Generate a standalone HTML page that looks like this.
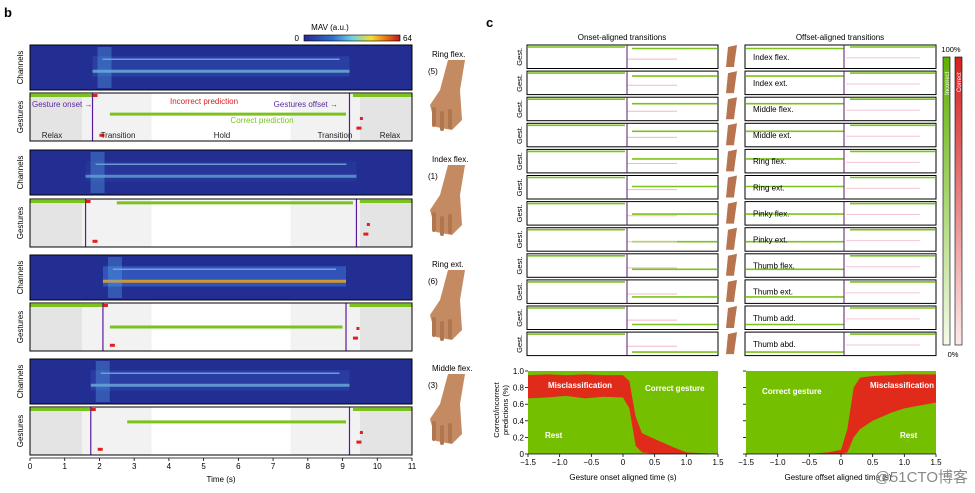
<!DOCTYPE html>
<html><head><meta charset="utf-8">
<style>
body{margin:0;background:#fff;font-family:"Liberation Sans",Arial,sans-serif;}
svg{display:block}
text{font-family:"Liberation Sans",Arial,sans-serif;}
</style></head>
<body>
<svg id="fig" width="975" height="493" viewBox="0 0 975 493">
<defs>
<linearGradient id="cmap" x1="0" x2="1" y1="0" y2="0">
<stop offset="0" stop-color="#2a2a8c"/><stop offset="0.3" stop-color="#2f6fd0"/><stop offset="0.5" stop-color="#6ed0e8"/><stop offset="0.7" stop-color="#f2e030"/><stop offset="0.85" stop-color="#e87818"/><stop offset="1" stop-color="#c01818"/>
</linearGradient>
<linearGradient id="gbar" x1="0" x2="0" y1="0" y2="1"><stop offset="0" stop-color="#5fb000"/><stop offset="1" stop-color="#f4fbe8"/></linearGradient>
<linearGradient id="rbar" x1="0" x2="0" y1="0" y2="1"><stop offset="0" stop-color="#d62020"/><stop offset="1" stop-color="#fdeaea"/></linearGradient>
</defs>
<g id="panelB"></g>
<g id="panelC"></g>
</svg>
<script>
// ---------- Panel b data ----------
const rowsB = ["Ring flex.","Index flex.","Ring ext.","Middle flex."];
const rowsBNum = ["(5)","(1)","(6)","(3)"];
const onsetB = [1.8, 1.6, 2.1, 1.75];
const offsetB = [9.2, 9.4, 9.1, 9.2];
const correctStart = [2.3, 2.5, 2.3, 2.8];
const correctEnd = [9.1, 9.3, 9.0, 9.1];
const correctLevel = [0.44, 0.08, 0.5, 0.31];
const intensityB = [0.35, 0.15, 0.8, 0.3];
const timeTicks = [0,1,2,3,4,5,6,7,8,9,10,11];
// ---------- Panel c data ----------
const gestures = ["Index flex.","Index ext.","Middle flex.","Middle ext.","Ring flex.","Ring ext.","Pinky flex.","Pinky ext.","Thumb flex.","Thumb ext.","Thumb add.","Thumb abd."];
const onsetT = [-1.5,-1.2,-0.9,-0.6,-0.3,0,0.1,0.2,0.3,0.5,0.8,1.0,1.5];
const onsetRest = [0.67,0.68,0.70,0.67,0.69,0.68,0.55,0.10,0.02,0,0,0,0];
const onsetTop  = [0.95,0.96,0.95,0.96,0.95,0.95,0.88,0.45,0.25,0.18,0.08,0.02,0];
const offsetT = [-1.5,-1.0,-0.5,-0.2,0,0.1,0.2,0.3,0.5,0.8,1.0,1.5];
const offsetRest = [0,0,0,0,0,0.02,0.2,0.3,0.4,0.5,0.55,0.62];
const offsetTop  = [0,0,0,0.02,0.05,0.3,0.8,0.92,0.94,0.95,0.96,0.96];
const cTicks = [-1.5,-1.0,-0.5,0,0.5,1.0,1.5];
const yTicks = [0,0.2,0.4,0.6,0.8,1.0];

const NS="http://www.w3.org/2000/svg";
function mk(parent,tag,attrs,txt){const e=document.createElementNS(NS,tag);for(const k in attrs)e.setAttribute(k,attrs[k]);if(txt!==undefined)e.textContent=txt;parent.appendChild(e);return e;}
const B=document.getElementById('panelB'), C=document.getElementById('panelC');

// panel b
const bx0=30,bx1=412;
const sx=t=>bx0+(bx1-bx0)*t/11;
let t=mk(B,'text',{x:4,y:17,'font-size':13,'font-weight':'bold'},'b');

t=mk(B,'text',{x:330,y:30,'font-size':8,'text-anchor':'middle'},'MAV (a.u.)');

let r=mk(B,'rect',{x:304,y:35,width:96,height:6,fill:'url(#cmap)',stroke:'#000','stroke-width':0.6});

mk(B,'text',{x:299,y:41,'font-size':8,'text-anchor':'end'},'0');
mk(B,'text',{x:403,y:41,'font-size':8},'64');
const chTop=[45,150,255,359], geTop=[93,199,303,407];
rowsB.forEach((name,i)=>{
  const cy=chTop[i], ch=45;
  const hm=mk(B,'g',{});
  
  mk(hm,'rect',{x:bx0,y:cy,width:bx1-bx0,height:ch,fill:'#232e92'});
  const a=intensityB[i];
  const xs=sx(onsetB[i]), xe=sx(offsetB[i]);
  mk(hm,'rect',{x:xs,y:cy+ch*0.25,width:xe-xs,height:ch*0.45,fill:'#3a6ad0',opacity:a*0.8});
  mk(hm,'rect',{x:xs,y:cy+ch*0.55,width:xe-xs,height:3,fill:a>0.6?'#e6a020':'#7fc8e8',opacity:0.5+a*0.5});
  mk(hm,'rect',{x:xs+10,y:cy+ch*0.3,width:xe-xs-20,height:1.5,fill:'#9fd8f0',opacity:0.6});
  mk(hm,'rect',{x:xs+5,y:cy+2,width:14,height:ch-4,fill:'#5aa8e8',opacity:0.35});
  mk(hm,'rect',{x:bx0,y:cy,width:bx1-bx0,height:ch,fill:'none',stroke:'#000','stroke-width':1});
  let l=mk(B,'text',{x:0,y:0,'font-size':8,'text-anchor':'middle',transform:`translate(${bx0-7},${cy+ch/2}) rotate(-90)`},'Channels');
  
  // gestures
  const gy=geTop[i], gh=48;
  const gg=mk(B,'g',{});
  
  mk(gg,'rect',{x:bx0,y:gy,width:bx1-bx0,height:gh,fill:'#fff'});
  mk(gg,'rect',{x:bx0,y:gy,width:sx(1.5)-bx0,height:gh,fill:'#e4e4e4'});
  mk(gg,'rect',{x:sx(1.5),y:gy,width:sx(3.5)-sx(1.5),height:gh,fill:'#f2f2f2'});
  mk(gg,'rect',{x:sx(7.5),y:gy,width:sx(9.5)-sx(7.5),height:gh,fill:'#f2f2f2'});
  mk(gg,'rect',{x:sx(9.5),y:gy,width:bx1-sx(9.5),height:gh,fill:'#e4e4e4'});
  const rel1=mk(gg,'rect',{x:bx0,y:gy+1,width:sx(onsetB[i])-bx0,height:3,fill:'#7cc21e'});
  
  const rel2=mk(gg,'rect',{x:sx(offsetB[i]+0.1),y:gy+1,width:bx1-sx(offsetB[i]+0.1),height:3,fill:'#7cc21e'});
  
  const cp=mk(gg,'rect',{x:sx(correctStart[i]),y:gy+gh*correctLevel[i]-1.5,width:sx(correctEnd[i])-sx(correctStart[i]),height:3,fill:'#7cc21e'});
  
  mk(gg,'rect',{x:sx(onsetB[i]),y:gy+1,width:5,height:3,fill:'#e02020'});
  mk(gg,'rect',{x:sx(onsetB[i]+0.2),y:gy+gh*0.85,width:5,height:3,fill:'#e02020'});
  mk(gg,'rect',{x:sx(offsetB[i]+0.3),y:gy+gh*0.5,width:3,height:3,fill:'#e02020'});
  mk(gg,'rect',{x:sx(offsetB[i]+0.2),y:gy+gh*0.7,width:5,height:3,fill:'#e02020'});
  mk(gg,'line',{x1:sx(onsetB[i]),x2:sx(onsetB[i]),y1:gy,y2:gy+gh,stroke:'#5a1a9a','stroke-width':1.2});
  mk(gg,'line',{x1:sx(offsetB[i]),x2:sx(offsetB[i]),y1:gy,y2:gy+gh,stroke:'#5a1a9a','stroke-width':1.2});
  mk(gg,'rect',{x:bx0,y:gy,width:bx1-bx0,height:gh,fill:'none',stroke:'#000','stroke-width':1});
  l=mk(B,'text',{x:0,y:0,'font-size':8,'text-anchor':'middle',transform:`translate(${bx0-7},${gy+gh/2}) rotate(-90)`},'Gestures');
  
  // gesture name + hand
  l=mk(B,'text',{x:432,y:cy+12,'font-size':8},name);
  
  mk(B,'text',{x:428,y:cy+29,'font-size':8},rowsBNum[i]);
  const h=mk(B,'g',{});
  
  mk(h,'path',{d:`M${448} ${cy+15} L${465} ${cy+15} L${460} ${cy+45} L${462} ${cy+75} L${452} ${cy+85} L${436} ${cy+82} L${430} ${cy+60} L${440} ${cy+45} Z`,fill:'#c48a62'});
  mk(h,'rect',{x:432,y:cy+62,width:4,height:20,fill:'#b07650',rx:2});
  mk(h,'rect',{x:440,y:cy+66,width:4,height:20,fill:'#b07650',rx:2});
  mk(h,'rect',{x:448,y:cy+64,width:4,height:20,fill:'#b07650',rx:2});
});
// annotations row1
[['Gesture onset →',32,107,'#5a2aa0','start'],['Incorrect prediction',204,104,'#d62020','middle'],['Gestures offset →',338,107,'#5a2aa0','end'],['Correct prediction',262,123,'#7cc21e','middle'],
 ['Relax',52,138,'#222','middle'],['Transition',118,138,'#222','middle'],['Hold',222,138,'#222','middle'],['Transition',335,138,'#222','middle'],['Relax',390,138,'#222','middle']].forEach(a=>{
  const e=mk(B,'text',{x:a[1],y:a[2],'font-size':8,fill:a[3],'text-anchor':a[4]},a[0]);
  
});
// time axis
mk(B,'line',{x1:bx0,x2:bx1,y1:458,y2:458,stroke:'#000','stroke-width':0.8});
timeTicks.forEach(v=>{
  mk(B,'line',{x1:sx(v),x2:sx(v),y1:458,y2:461,stroke:'#000','stroke-width':0.8});
  const e=mk(B,'text',{x:sx(v),y:469,'font-size':8,'text-anchor':'middle'},String(v));
  
});
t=mk(B,'text',{x:221,y:482,'font-size':8,'text-anchor':'middle'},'Time (s)');


// ---------- panel c ----------
t=mk(C,'text',{x:486,y:27,'font-size':13,'font-weight':'bold'},'c');

mk(C,'text',{x:622,y:40,'font-size':8,'text-anchor':'middle'},'Onset-aligned transitions');
mk(C,'text',{x:840,y:40,'font-size':8,'text-anchor':'middle'},'Offset-aligned transitions');
const Lx0=527,Lx1=718,Rx0=745,Rx1=936,rowH=23.5,pitch=26.1,top0=45;
gestures.forEach((g,i)=>{
  const y=top0+i*pitch, lvl=y+2+(i+1)*(rowH-4)/13;
  const lg=mk(C,'g',{});
  
  mk(lg,'rect',{x:Lx0,y:y,width:Lx1-Lx0,height:rowH,fill:'#fff',stroke:'#000','stroke-width':1});
  mk(lg,'line',{x1:Lx0+1,x2:Lx0+98,y1:y+2,y2:y+2,stroke:'#7cc21e','stroke-width':1.6});
  mk(lg,'line',{x1:Lx0+105,x2:Lx1-1,y1:lvl,y2:lvl,stroke:'#7cc21e','stroke-width':1.6});
  mk(lg,'line',{x1:Lx0+100,x2:Lx0+150,y1:y+rowH*0.6,y2:y+rowH*0.6,stroke:'#f0b8c8','stroke-width':1});
  mk(lg,'line',{x1:627,x2:627,y1:y,y2:y+rowH,stroke:'#5a1a6a','stroke-width':1});
  let e=mk(C,'text',{x:0,y:0,'font-size':7.5,'text-anchor':'middle',transform:`translate(${522},${y+rowH/2}) rotate(-90)`},'Gest.');
  
  const rg=mk(C,'g',{});
  
  mk(rg,'rect',{x:Rx0,y:y,width:Rx1-Rx0,height:rowH,fill:'#fff',stroke:'#000','stroke-width':1});
  mk(rg,'line',{x1:Rx0+1,x2:844,y1:lvl,y2:lvl,stroke:'#7cc21e','stroke-width':1.6});
  mk(rg,'line',{x1:850,x2:Rx1-1,y1:y+2,y2:y+2,stroke:'#7cc21e','stroke-width':1.6});
  mk(rg,'line',{x1:846,x2:920,y1:y+rowH*0.55,y2:y+rowH*0.55,stroke:'#f4c6d2','stroke-width':1});
  mk(rg,'line',{x1:844,x2:844,y1:y,y2:y+rowH,stroke:'#5a1a6a','stroke-width':1});
  e=mk(C,'text',{x:753,y:y+rowH/2+3,'font-size':8},g);
  
  const hd=mk(C,'path',{d:`M${728} ${y+2} L${737} ${y} L${735} ${y+14} L${734} ${y+22} L${726} ${y+22} Z`,fill:'#b8744e'});
  
});
r=mk(C,'rect',{x:943,y:57,width:7,height:288,fill:'url(#gbar)',stroke:'#000','stroke-width':0.6});

r=mk(C,'rect',{x:955,y:57,width:7,height:288,fill:'url(#rbar)',stroke:'#000','stroke-width':0.6});

mk(C,'text',{x:951,y:52,'font-size':7.5,'text-anchor':'middle'},'100%');
mk(C,'text',{x:953,y:357,'font-size':7.5,'text-anchor':'middle'},'0%');
mk(C,'text',{x:0,y:0,'font-size':6,fill:'#fff',transform:'translate(949,95) rotate(-90)'},'Incorrect');
mk(C,'text',{x:0,y:0,'font-size':6,fill:'#fff',transform:'translate(961,92) rotate(-90)'},'Correct');

// area charts
function areaChart(x0,x1,ts,rest,top,name,labels){
  const y0=454,y1=371;
  const X=v=>x0+(x1-x0)*(v+1.5)/3, Y=v=>y0+(y1-y0)*v;
  const g=mk(C,'g',{});
  
  mk(g,'rect',{x:x0,y:y1,width:x1-x0,height:y0-y1,fill:'#74c000'});
  let d='M'+ts.map((v,i)=>X(v)+' '+Y(top[i])).join(' L');
  d+=' L'+ts.slice().reverse().map((v,j)=>{const i=ts.length-1-j;return X(v)+' '+Y(rest[i]);}).join(' L')+' Z';
  const ar=mk(g,'path',{d:d,fill:'#e02a1a'});
  
  mk(g,'line',{x1:x0,x2:x1,y1:y0,y2:y0,stroke:'#000','stroke-width':0.8});
  cTicks.forEach(v=>{
    mk(g,'line',{x1:X(v),x2:X(v),y1:y0,y2:y0+3,stroke:'#000','stroke-width':0.8});
    const e=mk(g,'text',{x:X(v),y:y0+11,'font-size':8,'text-anchor':'middle'},(v<0?'−':'')+(v===0?'0':Math.abs(v).toFixed(1)));
    
  });
  yTicks.forEach(v=>{
    mk(g,'line',{x1:x0-3,x2:x0,y1:Y(v),y2:Y(v),stroke:'#000','stroke-width':0.8});
    if(labels){const e=mk(g,'text',{x:x0-4,y:Y(v)+3,'font-size':8,'text-anchor':'end'},v===0?'0':v.toFixed(1));
    }
  });
  return {X,Y};
}
const A=areaChart(528,718,onsetT,onsetRest,onsetTop,'onset-area-chart',true);
const Bc=areaChart(746,936,offsetT,offsetRest,offsetTop,'offset-area-chart',false);
[['Misclassification',548,388],['Correct gesture',645,391],['Rest',545,438],['Correct gesture',762,394],['Misclassification',870,388],['Rest',900,438]].forEach(a=>{
  const e=mk(C,'text',{x:a[1],y:a[2],'font-size':8,fill:'#fff','font-weight':'bold'},a[0]);
  
});
t=mk(C,'text',{x:0,y:0,'font-size':7.5,'text-anchor':'middle',transform:'translate(499,410) rotate(-90)'},'Correct/incorrect');

mk(C,'text',{x:0,y:0,'font-size':7.5,'text-anchor':'middle',transform:'translate(508,410) rotate(-90)'},'predictions (%)');
t=mk(C,'text',{x:623,y:480,'font-size':8,'text-anchor':'middle'},'Gesture onset aligned time (s)');

t=mk(C,'text',{x:838,y:480,'font-size':8,'text-anchor':'middle'},'Gesture offset aligned time (s)');

t=mk(C,'text',{x:968,y:482,'font-size':15,fill:'#888','text-anchor':'end'},'@51CTO博客');

</script>
</body></html>
